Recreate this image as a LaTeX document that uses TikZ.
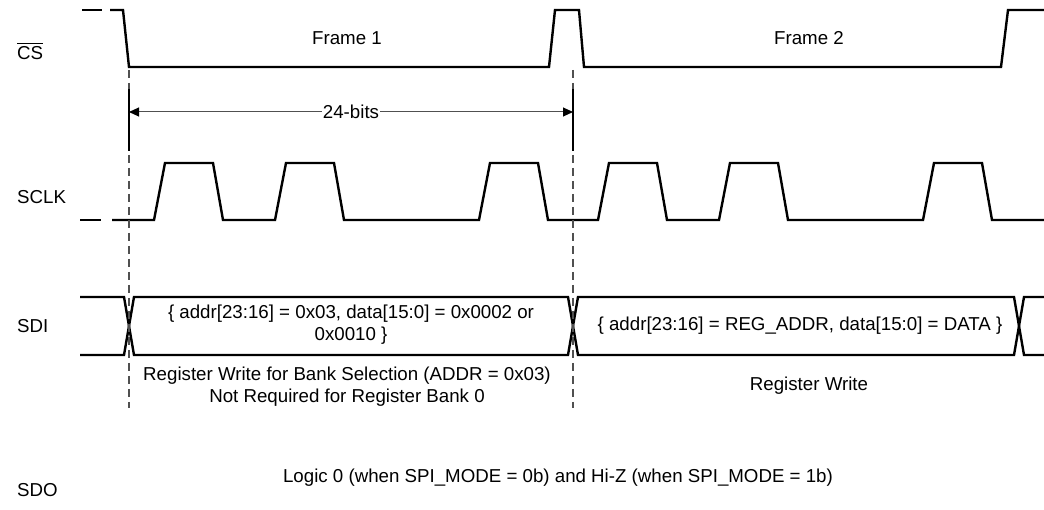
\documentclass[tikz,border=0pt]{standalone}
\usepackage{amsmath}
\usepackage{fontspec}
\setmainfont{Liberation Sans}
\usetikzlibrary{arrows.meta,positioning}
\definecolor{guidegray}{HTML}{505050}

\begin{document}
\begin{tikzpicture}[x=1pt,y=-1pt,font=\fontsize{18.7}{22}\selectfont,
    sig/.style={line width=2.4pt},
    guide/.style={guidegray,line width=1.4pt,dash pattern=on 8pt off 5pt},
    dim/.style={guidegray,line width=1pt,{Triangle[length=10pt,width=9pt,black]}-{Triangle[length=10pt,width=9pt,black]}},
    lbl/.style={anchor=west,inner sep=0pt}]
  \useasboundingbox (0,0) rectangle (1044,510);
  % signal names
  \node[lbl] (cs) at (17,51) {$\overline{\text{CS}}$};
  \node[lbl] (sclk) at (17,197) {SCLK};
  \node[lbl] (sdi) at (17,326) {SDI};
  \node[lbl] (sdo) at (17,490) {SDO};
  % CS
  \draw[sig] (82,10) -- (102,10);
  \draw[sig] (110,10) -- (123,10) -- (129,67) -- (549,67) -- (555,10) -- (579,10) -- (584,67)
    -- (1001,67) -- (1008,10) -- (1044,10);
  \node (fr1) at (347,38) {Frame 1};
  \node (fr2) at (809,38) {Frame 2};
  % SCLK
  \draw[sig] (80,220) -- (101,220);
  \draw[sig] (112,220) foreach \s in {154,275,479,598,719,923} {
      -- (\s,220) -- ++(11,-57) -- ++(48,0) -- ++(10,57)} -- (1044,220);
  % SDI
  \draw[sig] (80,297) -- (124,297) -- (134,355) -- (568,355) -- (578,297) -- (1014,297) -- (1024,355) -- (1044,355);
  \draw[sig] (80,355) -- (124,355) -- (134,297) -- (568,297) -- (578,355) -- (1014,355) -- (1024,297) -- (1044,297);
  \node[align=center] (wr1) at (351,325) {\{ addr[23:16] = 0x03, data[15:0] = 0x0002 or\\0x0010 \}};
  \node (wr2) at (800,326) {\{ addr[23:16] = REG\_ADDR, data[15:0] = DATA \}};
  \node[align=center] (bank) at (347,387) {Register Write for Bank Selection (ADDR = 0x03)\\Not Required for Register Bank 0};
  \node (regw) at (809,386) {Register Write};
  % SDO
  \node (logic) at (558,478) {Logic 0 (when SPI\_MODE = 0b) and Hi-Z (when SPI\_MODE = 1b)};
  % frame edges and 24 bits
  \foreach \x/\n in {129/a,573/b} {
    \draw[guide] (\x,70) -- (\x,89);
    \draw[black,line width=1.6pt] (\x,89) -- (\x,151);
    \draw[guide] (\x,155) -- (\x,408);
    \coordinate (\n) at (\x,112);
  }
  \draw[dim] (a) -- node[fill=white,text=black,inner xsep=1pt,inner ysep=0pt] (bits) {24-bits} (b);
\end{tikzpicture}
\end{document}
